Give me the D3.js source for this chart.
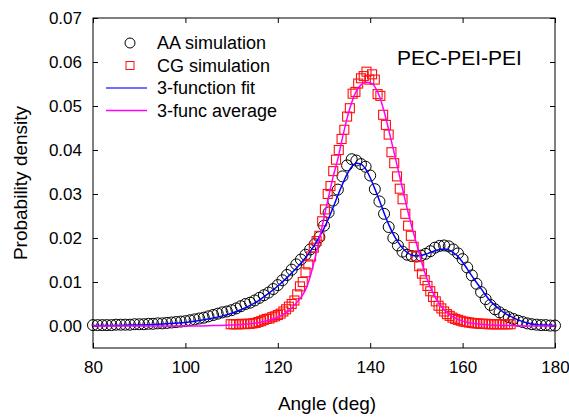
<!DOCTYPE html>
<html>
<head>
<meta charset="utf-8">
<script src="https://cdn.jsdelivr.net/npm/d3@7"></script>
<style>
  body { margin: 0; background: #fff; }
  text { font-family: Arial, "Liberation Sans", sans-serif; fill: #000; }
</style>
</head>
<body>
<div id="chart"></div>
<script>
// AA simulation, one point per degree from 80 to 180
var aaStart = 80, aaStep = 1;
var aaValues = [
  0.0002, 0.0002, 0.0002, 0.0002, 0.0002, 0.0003, 0.0003, 0.0003, 0.0003, 0.0004,
  0.0004, 0.0004, 0.0005, 0.0005, 0.0006, 0.0006, 0.0007, 0.0008, 0.0009, 0.0010,
  0.0011, 0.0013, 0.0015, 0.0017, 0.0019, 0.0022, 0.0025, 0.0028, 0.0031, 0.0033,
  0.0036, 0.0040, 0.0045, 0.0050, 0.0053, 0.0058, 0.0064, 0.0070, 0.0076, 0.0084,
  0.0093, 0.0104, 0.0116, 0.0128, 0.0140, 0.0151, 0.0162, 0.0174, 0.0186, 0.0202,
  0.0228, 0.0258, 0.0285, 0.0310, 0.0340, 0.0365, 0.0379, 0.0376, 0.0368, 0.0362,
  0.0342, 0.0311, 0.0283, 0.0255, 0.0225, 0.0200, 0.0183, 0.0169, 0.0162, 0.0159,
  0.0158, 0.0160, 0.0164, 0.0170, 0.0178, 0.0182, 0.0183, 0.0181, 0.0174, 0.0165,
  0.0152, 0.0133, 0.0115, 0.0096, 0.0077, 0.0061, 0.0048, 0.0038, 0.0031, 0.0025,
  0.0020, 0.0016, 0.0012, 0.0009, 0.0006, 0.0004, 0.0003, 0.0002, 0.0002, 0.0001,
  0.0001
];

// CG simulation, 0.6 degree bins from 109.8 to 170.4
var cgStart = 109.8, cgStep = 0.6;
var cgValues = [
  0.0004, 0.0004, 0.0004, 0.0004, 0.0005, 0.0004, 0.0005, 0.0005, 0.0006, 0.0007,
  0.0009, 0.0011, 0.0014, 0.0016, 0.0017, 0.0020, 0.0022, 0.0025, 0.0028, 0.0033,
  0.0038, 0.0044, 0.0050, 0.0058, 0.0072, 0.0090, 0.0100, 0.0122, 0.0140, 0.0158,
  0.0178, 0.0193, 0.0205, 0.0238, 0.0265, 0.0300, 0.0318, 0.0352, 0.0378, 0.0400,
  0.0425, 0.0446, 0.0476, 0.0495, 0.0528, 0.0532, 0.0551, 0.0563, 0.0568, 0.0578,
  0.0560, 0.0572, 0.0560, 0.0527, 0.0523, 0.0480, 0.0457, 0.0435, 0.0395, 0.0370,
  0.0340, 0.0312, 0.0288, 0.0255, 0.0228, 0.0205, 0.0180, 0.0158, 0.0136, 0.0119,
  0.0104, 0.0091, 0.0079, 0.0066, 0.0056, 0.0046, 0.0040, 0.0033, 0.0027, 0.0023,
  0.0019, 0.0016, 0.0014, 0.0012, 0.0010, 0.0009, 0.0008, 0.0007, 0.0006, 0.0006,
  0.0005, 0.0005, 0.0005, 0.0004, 0.0004, 0.0004, 0.0004, 0.0004, 0.0004, 0.0004,
  0.0004, 0.0004
];

// 3-function fit (AA)
var fitAngles = [80, 84, 88, 92, 96, 100, 104, 108, 110, 112, 114, 116, 118, 120, 122, 124, 126, 128, 130,
  132, 133, 134, 135, 136, 137, 138, 139, 140, 141, 142, 143, 144, 145, 146, 147, 148, 149, 150,
  151, 152, 153, 154, 155, 156, 157, 158, 159, 160, 161, 162, 163, 164, 165, 166, 167, 168, 169,
  170, 172, 174, 176, 178, 180];
var fitValues = [0.0001, 0.0001, 0.0002, 0.0003, 0.0005, 0.0008, 0.0014, 0.0023, 0.0029, 0.0037, 0.0047,
  0.0059, 0.0074, 0.0091, 0.0110, 0.0131, 0.0155, 0.0185, 0.0222,
  0.0270, 0.0297, 0.0322, 0.0345, 0.0362, 0.0370, 0.0368, 0.0357, 0.0337, 0.0312, 0.0285, 0.0257,
  0.0231, 0.0209, 0.0191, 0.0177, 0.0167, 0.0161, 0.0159,
  0.0160, 0.0163, 0.0167, 0.0171, 0.0174, 0.0175, 0.0173, 0.0167, 0.0158, 0.0145, 0.0130, 0.0114,
  0.0099, 0.0085, 0.0070, 0.0057, 0.0047, 0.0038, 0.0030,
  0.0024, 0.0014, 0.0007, 0.0003, 0.0002, 0.0001];

// 3-func average (CG)
var avgAngles = [80, 100, 106, 110, 114, 116, 118, 120, 122, 124, 125, 126, 127, 128, 129, 130, 131,
  132, 133, 134, 135, 136, 137, 138, 139, 140, 141, 142, 143, 144, 145, 146, 147, 148, 149, 150,
  151, 152, 153, 154, 155, 156, 157, 158, 160, 162, 165, 170, 175, 180];
var avgValues = [0, 0, 0.0001, 0.0002, 0.0005, 0.0008, 0.0013, 0.0020, 0.0032, 0.0052, 0.0065, 0.0082,
  0.0112, 0.0152, 0.0198, 0.0246, 0.0294,
  0.0340, 0.0380, 0.0428, 0.0472, 0.0508, 0.0534, 0.0548, 0.0554, 0.0553, 0.0544, 0.0522, 0.0488,
  0.0446, 0.0402, 0.0357, 0.0312, 0.0267, 0.0226, 0.0188,
  0.0150, 0.0116, 0.0089, 0.0067, 0.0050, 0.0037, 0.0027, 0.0020, 0.0011, 0.0006, 0.0003, 0.0001, 0, 0];

var xTicks = [80, 100, 120, 140, 160, 180];
var yTicks = [0.00, 0.01, 0.02, 0.03, 0.04, 0.05, 0.06, 0.07];
var legendLabels = ["AA simulation", "CG simulation", "3-function fit", "3-func average"];

var width = 569, height = 417;
var margin = { top: 18, right: 14, bottom: 69, left: 93 };
var w = width - margin.left - margin.right,
  h = height - margin.top - margin.bottom;

var svg = d3.select("#chart").append("svg")
  .attr("width", width)
  .attr("height", height);

var g = svg.append("g")
  .attr("transform", "translate(" + margin.left + "," + margin.top + ")");

var x = d3.scaleLinear().domain([80, 180]).range([0, w]);
var y = d3.scaleLinear().domain([-0.005, 0.07]).range([h, 0]);

// axes, ticks point inward
g.append("g")
  .attr("transform", "translate(0," + h + ")")
  .call(d3.axisBottom(x).tickValues(xTicks).tickSize(-5).tickPadding(13))
  .call(function (a) { a.select(".domain").remove(); })
  .selectAll("text").style("font-size", "17px");

g.append("g")
  .call(d3.axisTop(x).tickValues(xTicks).tickSize(-5).tickFormat(""))
  .call(function (a) { a.select(".domain").remove(); });

g.append("g")
  .call(d3.axisLeft(y).tickValues(yTicks).tickSize(-5).tickPadding(11).tickFormat(d3.format(".2f")))
  .call(function (a) { a.select(".domain").remove(); })
  .selectAll("text").style("font-size", "17px");

g.append("g")
  .attr("transform", "translate(" + w + ",0)")
  .call(d3.axisRight(y).tickValues(yTicks).tickSize(-5).tickFormat(""))
  .call(function (a) { a.select(".domain").remove(); });

g.selectAll(".tick line").attr("stroke", "#000");

g.append("rect")
  .attr("width", w)
  .attr("height", h)
  .attr("fill", "none")
  .attr("stroke", "#000")
  .attr("stroke-width", 1);

// axis titles
svg.append("text")
  .attr("x", 327)
  .attr("y", 410)
  .attr("text-anchor", "middle")
  .style("font-size", "19px")
  .text("Angle (deg)");

svg.append("text")
  .attr("transform", "translate(27," + (margin.top + h / 2) + ") rotate(-90)")
  .attr("text-anchor", "middle")
  .style("font-size", "19px")
  .text("Probability density");

// markers
var plot = g.append("g");

plot.selectAll("circle.aa")
  .data(aaValues)
  .join("circle")
  .attr("class", "aa")
  .attr("cx", function (d, i) { return x(aaStart + i * aaStep); })
  .attr("cy", function (d) { return y(d); })
  .attr("r", 5.5)
  .attr("fill", "none")
  .attr("stroke", "#000")
  .attr("stroke-width", 1);

var sq = 9;
plot.selectAll("rect.cg")
  .data(cgValues)
  .join("rect")
  .attr("class", "cg")
  .attr("x", function (d, i) { return x(cgStart + i * cgStep) - sq / 2; })
  .attr("y", function (d) { return y(d) - sq / 2; })
  .attr("width", sq)
  .attr("height", sq)
  .attr("fill", "none")
  .attr("stroke", "#ff1010")
  .attr("stroke-width", 1.1);

// fit lines
var line = d3.line()
  .x(function (d) { return x(d[0]); })
  .y(function (d) { return y(d[1]); })
  .curve(d3.curveMonotoneX);

plot.append("path")
  .datum(d3.zip(fitAngles, fitValues))
  .attr("d", line)
  .attr("fill", "none")
  .attr("stroke", "#0000ff")
  .attr("stroke-width", 1.5);

plot.append("path")
  .datum(d3.zip(avgAngles, avgValues))
  .attr("d", line)
  .attr("fill", "none")
  .attr("stroke", "#ff00ff")
  .attr("stroke-width", 1.5);

// legend
var legend = svg.append("g");
var rowY = [43, 65.5, 88, 110.5];

legend.append("circle")
  .attr("cx", 130).attr("cy", rowY[0]).attr("r", 5)
  .attr("fill", "none").attr("stroke", "#000");
legend.append("rect")
  .attr("x", 126).attr("y", rowY[1] - 4).attr("width", 8).attr("height", 8)
  .attr("fill", "none").attr("stroke", "#ff1010");
legend.append("line")
  .attr("x1", 106).attr("x2", 147).attr("y1", rowY[2]).attr("y2", rowY[2])
  .attr("stroke", "#4040ff").attr("stroke-width", 1.5);
legend.append("line")
  .attr("x1", 106).attr("x2", 147).attr("y1", rowY[3]).attr("y2", rowY[3])
  .attr("stroke", "#ff00ff").attr("stroke-width", 1.5);

legend.selectAll("text")
  .data(legendLabels)
  .join("text")
  .attr("x", 157)
  .attr("y", function (d, i) { return rowY[i] + 6; })
  .style("font-size", "18px")
  .text(function (d) { return d; });

svg.append("text")
  .attr("x", 397)
  .attr("y", 65)
  .style("font-size", "21px")
  .text("PEC-PEI-PEI");
</script>
</body>
</html>
